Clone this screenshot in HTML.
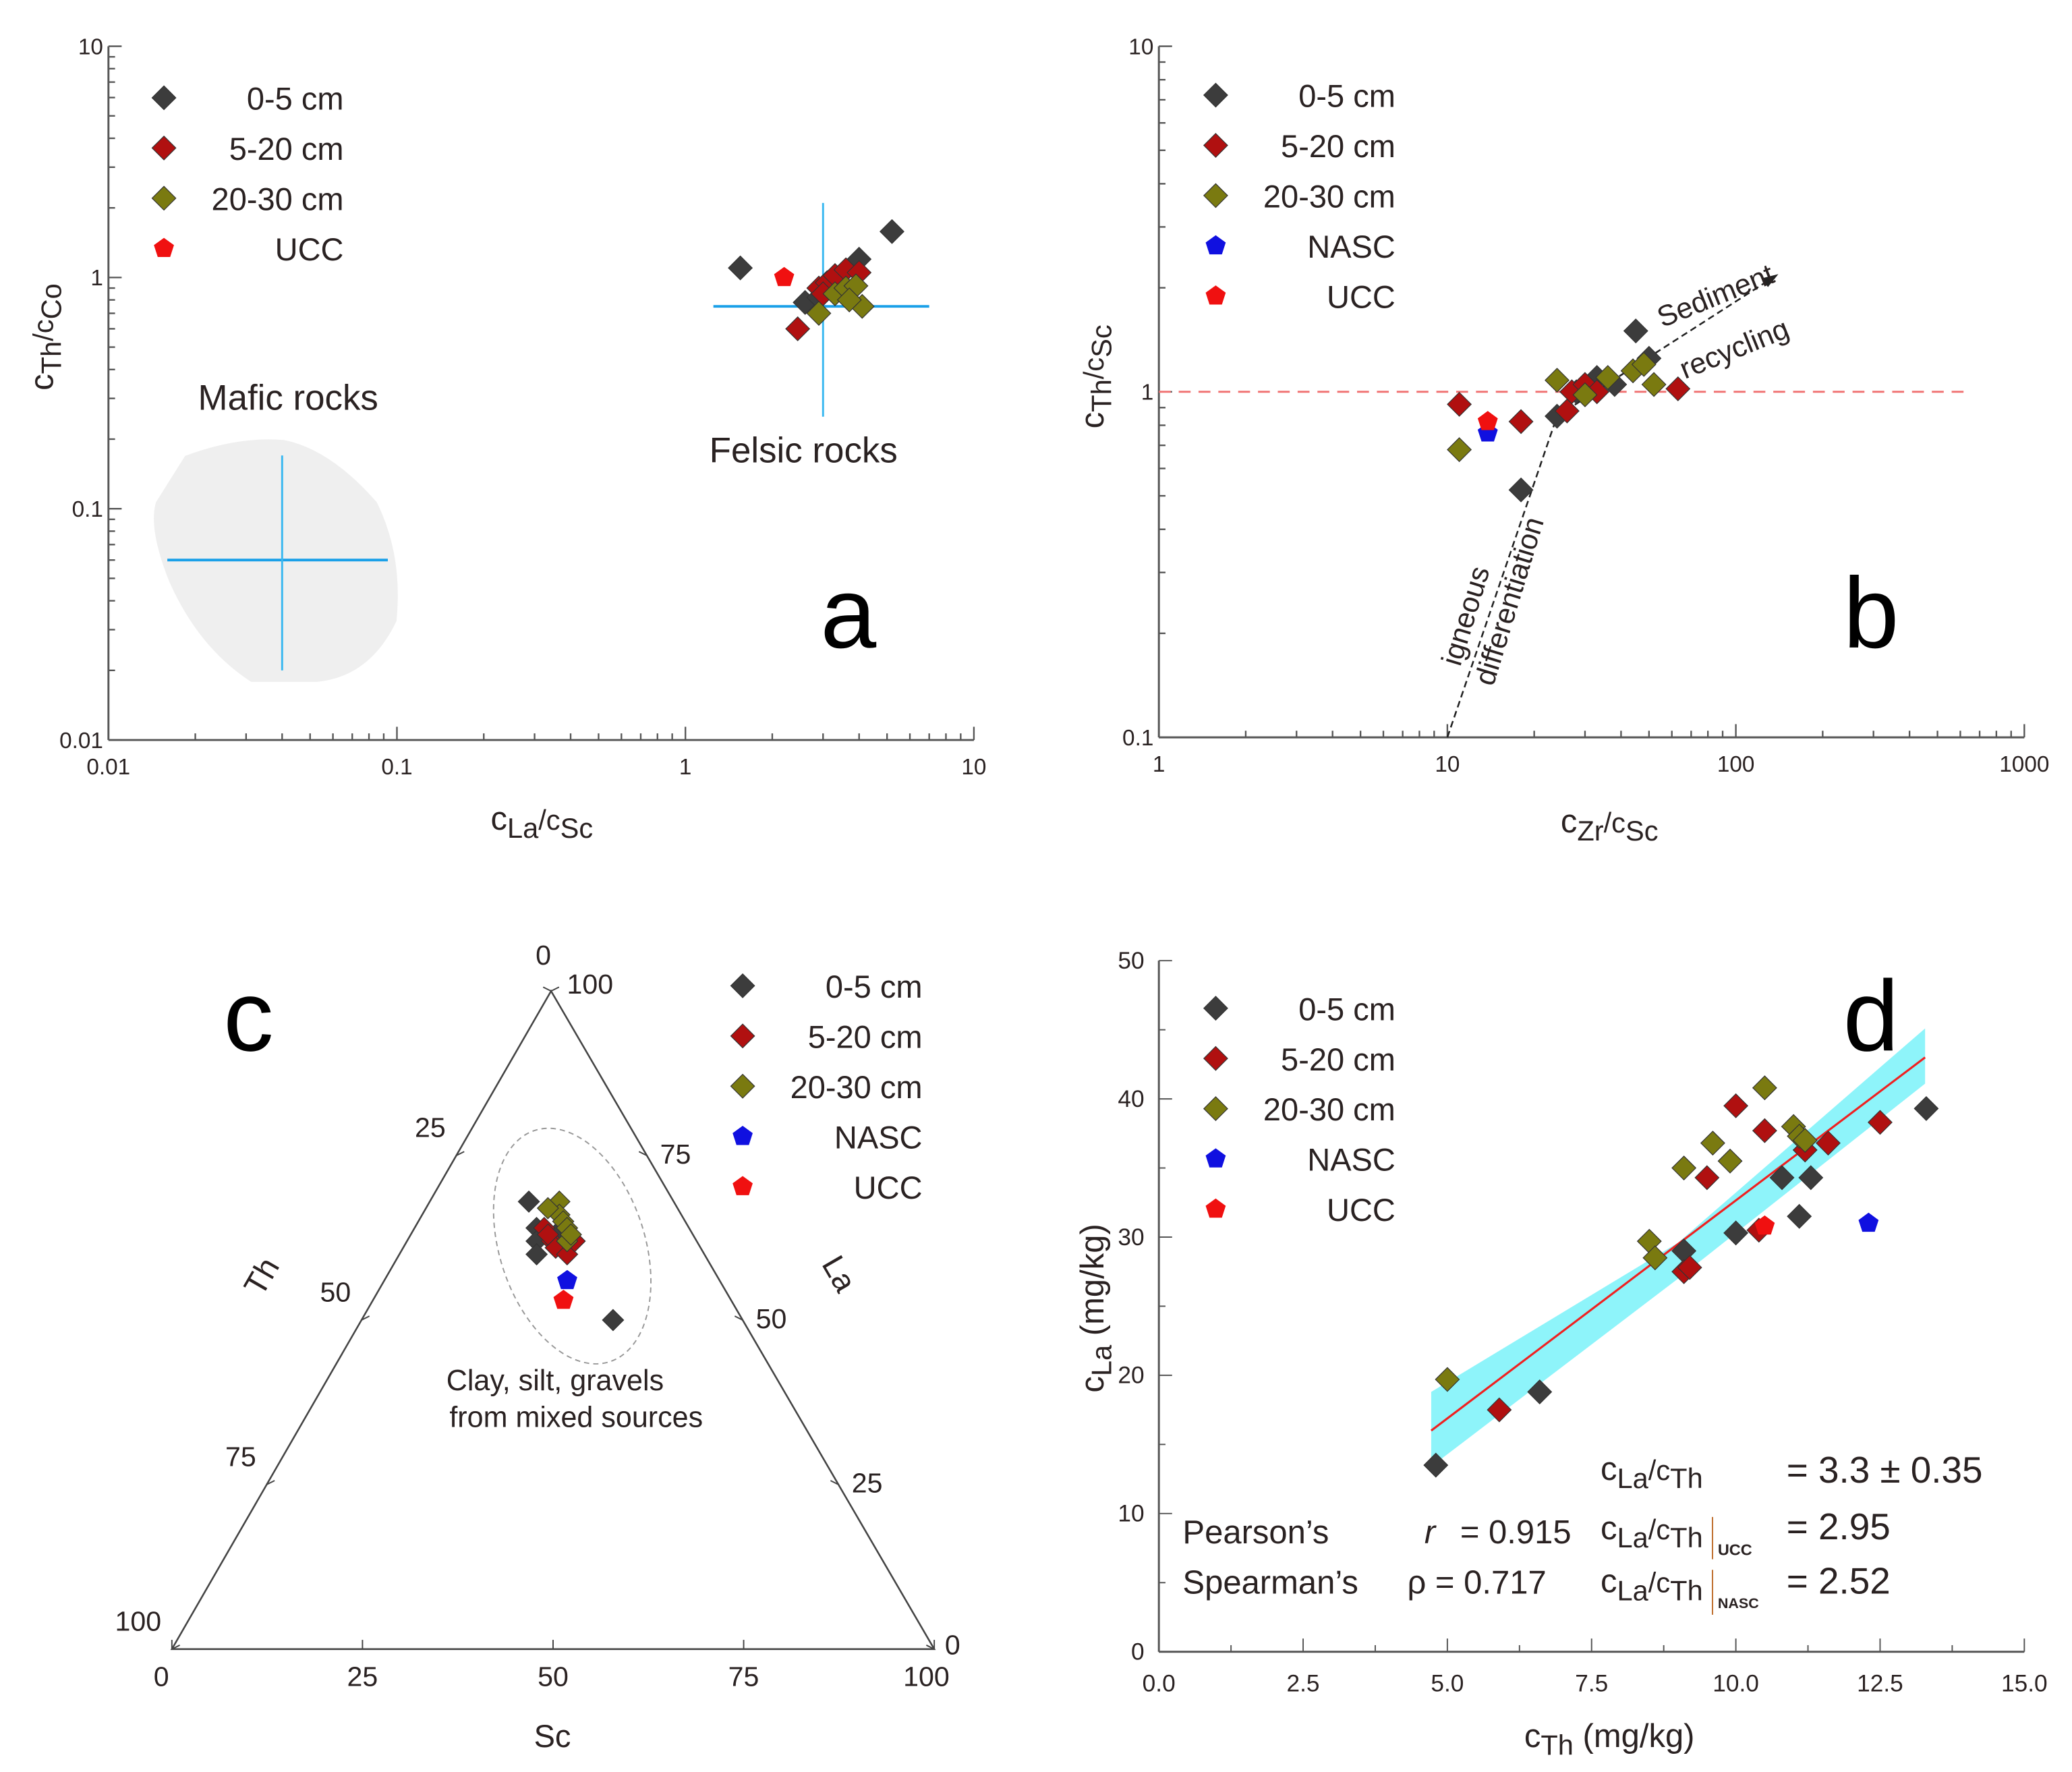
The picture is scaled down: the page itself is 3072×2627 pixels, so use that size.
<!DOCTYPE html>
<html><head><meta charset="utf-8"><style>
html,body{margin:0;padding:0;background:#fff}
svg{display:block}
text{font-family:"Liberation Sans",sans-serif;fill:#2a2222}
</style></head><body>
<svg id="fig" width="3072" height="2627" viewBox="0 0 1568 1341" xmlns="http://www.w3.org/2000/svg">
<g id="pa"></g>
<g id="pb"></g>
<g id="pc"></g>
<g id="pd"></g>
</svg>
<script>
// ---------- data ----------
// Panel a: [La/Sc, Th/Co]
const aGray=[[1.55,1.1],[2.6,0.78],[2.9,0.82],[3.3,1.0],[4.0,1.2],[5.2,1.58]];
const aRed=[[2.45,0.6],[2.9,0.9],[3.1,0.95],[3.3,1.02],[3.6,1.08],[4.0,1.05],[3.0,0.85]];
const aOlive=[[2.9,0.7],[3.3,0.85],[3.6,0.9],[3.9,0.92],[4.1,0.75],[3.7,0.8]];
const aUCC=[[2.2,1.0]];
const aTicks=[0.01,0.1,1,10];
// Panel b: [Zr/Sc, Th/Sc]
const bGray=[[18,0.52],[24,0.85],[28,1.0],[33,1.1],[38,1.05],[45,1.5],[50,1.25]];
const bRed=[[11,0.92],[18,0.82],[26,0.88],[27,1.0],[30,1.05],[33,1.0],[63,1.02]];
const bOlive=[[11,0.68],[24,1.08],[30,0.98],[36,1.1],[44,1.15],[48,1.2],[52,1.05]];
const bNASC=[[13.8,0.76]];
const bUCC=[[13.8,0.82]];
const bXTicks=[1,10,100,1000];
const bYTicks=[0.1,1,10];
// Panel c: [La, Sc] (Th = 100 - La - Sc)
const cGray=[[68,13],[64,16],[62,17],[60,18],[63,19],[50,33]];
const cRed=[[64,17],[62,19],[61,20],[60,22],[62,22],[63,18]];
const cOlive=[[68,17],[66,18],[65,19],[64,20],[62,21],[67,16],[63,21]];
const cNASC=[[56,24]];
const cUCC=[[53,25]];
const cTicks=[0,25,50,75,100];
// Panel d: [Th, La]
const dGray=[[4.8,13.5],[6.6,18.8],[9.1,29],[10,30.3],[10.8,34.3],[11.1,31.5],[11.3,34.3],[13.3,39.3]];
const dRed=[[5.9,17.5],[9.1,27.5],[9.2,27.8],[9.5,34.3],[10,39.5],[10.4,30.5],[10.5,37.7],[11.2,36.3],[11.6,36.8],[12.5,38.3]];
const dOlive=[[5,19.7],[8.5,29.7],[8.6,28.5],[9.1,35],[9.6,36.8],[9.9,35.5],[10.5,40.8],[11.0,38],[11.1,37.3],[11.2,37]];
const dNASC=[[12.3,31]];
const dUCC=[[10.5,30.8]];
const dXTicks=[0,2.5,5,7.5,10,12.5,15];
const dYTicks=[0,10,20,30,40,50];
const dFit=[[4.72,16.0],[13.28,43.0]];
const dBandUpper=[[4.72,18.8],[9,29.6],[13.28,45.1]];
const dBandLower=[[4.72,13.4],[9,27.0],[13.28,41.1]];

// ---------- helpers ----------
const NS='http://www.w3.org/2000/svg';
function mk(parent,tag,attrs,txt){const e=document.createElementNS(NS,tag);for(const k in attrs)e.setAttribute(k,attrs[k]);if(txt!==undefined)e.textContent=txt;parent.appendChild(e);return e;}
const COL={gray:'#3c3c3c',red:'#b01010',olive:'#7a7a10',blue:'#1010e0',ucc:'#f01010'};
function diamond(g,x,y,c,s){s=s||9;const e=mk(g,'path',{d:`M${x} ${y-s}L${x+s} ${y}L${x} ${y+s}L${x-s} ${y}Z`,fill:c,stroke:'#333','stroke-width':0.6});

return e;}
function penta(g,x,y,c){let p=[];for(let i=0;i<5;i++){const a=-Math.PI/2+i*2*Math.PI/5;p.push((x+8*Math.cos(a)).toFixed(1)+','+(y+8*Math.sin(a)).toFixed(1));}
const e=mk(g,'polygon',{points:p.join(' '),fill:c});

return e;}
function series(g,arr,fx,fy,c,shape){arr.forEach(d=>{const x=fx(d[0]),y=fy(d[1]);shape==='p'?penta(g,x,y,c):diamond(g,x,y,c);});}
function legend(g,x,y,items){items.forEach((it,i)=>{const yy=y+i*38;const lg=mk(g,'g',{});


it[2]==='p'?penta(lg,x,yy,it[1]):diamond(lg,x,yy,it[1]);mk(lg,'text',{x:x+136,y:yy+9,'font-size':24,'text-anchor':'end'},it[0]);});}
function logAxis(g,x0,x1,lo,hi,vertical,pos,labels){const dec=Math.log10(hi/lo);const f=v=>x0+(x1-x0)*Math.log10(v/lo)/dec;
mk(g,'line',vertical?{x1:pos,y1:x0,x2:pos,y2:x1,stroke:'#555','stroke-width':1.5}:{x1:x0,y1:pos,x2:x1,y2:pos,stroke:'#555','stroke-width':1.5});
for(let d=lo;d<hi*1.001;d*=10){for(let m=1;m<10;m++){const v=d*m;if(v>hi*1.001)break;const p=f(v);const L=m===1?10:5;
if(vertical)mk(g,'line',{x1:pos,y1:p,x2:pos+L,y2:p,stroke:'#555','stroke-width':1.2});else mk(g,'line',{x1:p,y1:pos,x2:p,y2:pos-L,stroke:'#555','stroke-width':1.2});}}
labels.forEach(v=>{const p=f(v);const t=vertical?mk(g,'text',{x:pos-4,y:p+6,'font-size':17,'text-anchor':'end'},String(v)):mk(g,'text',{x:p,y:pos+26,'font-size':17,'text-anchor':'middle'},String(v));

});return f;}
function subLabel(g,x,y,parts,rot,fs){fs=fs||25;const t=mk(g,'text',{x:x,y:y,'font-size':fs,'text-anchor':'middle',transform:rot?`rotate(-90 ${x} ${y})`:''});
parts.forEach(p=>{const s=mk(t,'tspan',{});if(p[1]===1||p[1]===-1)s.setAttribute('font-size',fs*0.85);s.setAttribute('dy',p[1]===1?6:((p[1]===-1||p[1]===2)?-6:0));s.textContent=p[0];});return t;}

// ---------- panel a ----------
(function(){const g=document.getElementById('pa');
const fx=logAxis(g,82,737,0.01,10,false,560,aTicks);
const fy=logAxis(g,560,35,0.01,10,true,82,aTicks);
mk(g,'path',{d:'M140 345 Q180 330 215 333 Q250 340 285 380 Q305 420 300 470 Q280 512 240 516 L190 516 Q150 490 128 440 Q112 400 118 380 Z',fill:'#efefef'});
mk(g,'line',{x1:fx(0.016),y1:fy(0.06),x2:fx(0.093),y2:fy(0.06),stroke:'#1aa0e8','stroke-width':2});
mk(g,'line',{x1:fx(0.04),y1:fy(0.17),x2:fx(0.04),y2:fy(0.02),stroke:'#3ab8f0','stroke-width':1.5});
mk(g,'line',{x1:fx(1.25),y1:fy(0.75),x2:fx(7),y2:fy(0.75),stroke:'#1aa0e8','stroke-width':2});
mk(g,'line',{x1:fx(3.0),y1:fy(2.1),x2:fx(3.0),y2:fy(0.25),stroke:'#3ab8f0','stroke-width':1.5});
series(g,aGray,fx,fy,COL.gray);series(g,aRed,fx,fy,COL.red);series(g,aOlive,fx,fy,COL.olive);series(g,aUCC,fx,fy,COL.ucc,'p');
mk(g,'text',{x:218,y:310,'font-size':27,'text-anchor':'middle'},'Mafic rocks');
mk(g,'text',{x:608,y:350,'font-size':27,'text-anchor':'middle'},'Felsic rocks');
mk(g,'text',{x:642,y:490,'font-size':76,'text-anchor':'middle',style:'fill:#000'},'a');
legend(g,124,74,[['0-5 cm',COL.gray],['5-20 cm',COL.red],['20-30 cm',COL.olive],['UCC',COL.ucc,'p']]);
subLabel(g,410,628,[['c'],['La',1],['/c',-1],['Sc',1]]);
subLabel(g,40,255,[['c'],['Th',1],['/c',-1],['Co',1]],true);
})();

// ---------- panel b ----------
(function(){const g=document.getElementById('pb');
const fx=logAxis(g,877,1532,1,1000,false,558,bXTicks);
const fy=logAxis(g,558,35,0.1,10,true,877,bYTicks);
mk(g,'line',{x1:877,y1:fy(1),x2:1490,y2:fy(1),stroke:'#f07070','stroke-width':1.5,'stroke-dasharray':'9 6'});
mk(g,'defs',{}).innerHTML='<marker id="ah" markerUnits="userSpaceOnUse" markerWidth="12" markerHeight="8" refX="11" refY="4" orient="auto"><path d="M0 0L12 4L0 8Z" fill="#222"/></marker>';
mk(g,'line',{x1:fx(10),y1:fy(0.1),x2:fx(24),y2:fy(0.85),stroke:'#222','stroke-width':1.3,'stroke-dasharray':'5 3'});
mk(g,'line',{x1:fx(24),y1:fy(0.85),x2:1345,y2:208,stroke:'#222','stroke-width':1.3,'stroke-dasharray':'5 3','marker-end':'url(#ah)'});
series(g,bGray,fx,fy,COL.gray);series(g,bRed,fx,fy,COL.red);series(g,bOlive,fx,fy,COL.olive);
series(g,bNASC,fx,fy,COL.blue,'p');series(g,bUCC,fx,fy,COL.ucc,'p');
mk(g,'text',{x:1258,y:248,'font-size':22,transform:'rotate(-22 1258 248)'},'Sediment');
mk(g,'text',{x:1275,y:287,'font-size':22,transform:'rotate(-22 1275 287)'},'recycling');
mk(g,'text',{x:1105,y:505,'font-size':22,transform:'rotate(-73 1105 505)'},'igneous');
mk(g,'text',{x:1130,y:520,'font-size':22,transform:'rotate(-73 1130 520)'},'differentiation');
mk(g,'text',{x:1416,y:490,'font-size':76,'text-anchor':'middle',style:'fill:#000'},'b');
legend(g,920,72,[['0-5 cm',COL.gray],['5-20 cm',COL.red],['20-30 cm',COL.olive],['NASC',COL.blue,'p'],['UCC',COL.ucc,'p']]);
subLabel(g,1218,630,[['c'],['Zr',1],['/c',-1],['Sc',1]]);
subLabel(g,835,285,[['c'],['Th',1],['/c',-1],['Sc',1]],true);
})();

// ---------- panel c ----------
(function(){const g=document.getElementById('pc');
const T=[417,750],L=[130,1248],R=[707,1248];
const P=(la,sc)=>{const th=(100-la-sc)/100;la/=100;sc/=100;return[la*T[0]+sc*R[0]+th*L[0],la*T[1]+sc*R[1]+th*L[1]];};
mk(g,'polygon',{points:`${T} ${L} ${R}`,fill:'none',stroke:'#444','stroke-width':1.3});
cTicks.forEach(v=>{const b=P(0,v);mk(g,'line',{x1:b[0],y1:b[1],x2:b[0],y2:b[1]-7,stroke:'#444'});
mk(g,'text',{x:b[0]+(v===0?-8:v===100?-6:0),y:b[1]+28,'font-size':21,'text-anchor':'middle'},String(v));
const r=P(v,100-v);mk(g,'line',{x1:r[0],y1:r[1],x2:r[0]-6,y2:r[1]-3,stroke:'#444'});
mk(g,'text',{x:r[0]+(v===100?12:v===0?8:10),y:r[1]+(v===100?2:v===0?4:6),'font-size':21},String(v));
const l=P(100-v,0);mk(g,'line',{x1:l[0],y1:l[1],x2:l[0]+6,y2:l[1]-3,stroke:'#444'});
mk(g,'text',{x:l[0]-(v===0?0:8),y:l[1]+(v===0?-20:-14),'font-size':21,'text-anchor':'end'},String(v));});
mk(g,'ellipse',{cx:433,cy:943,rx:55,ry:92,transform:'rotate(-18 433 943)',fill:'none',stroke:'#999','stroke-width':1,'stroke-dasharray':'4 3'});
const pc=(arr,c,s)=>arr.forEach(d=>{const p=P(d[0],d[1]);s==='p'?penta(g,p[0],p[1],c):diamond(g,p[0],p[1],c,8);});
pc(cGray,COL.gray);pc(cRed,COL.red);pc(cOlive,COL.olive);pc(cNASC,COL.blue,'p');pc(cUCC,COL.ucc,'p');
mk(g,'text',{x:420,y:1052,'font-size':22,'text-anchor':'middle'},'Clay, silt, gravels');
mk(g,'text',{x:436,y:1080,'font-size':22,'text-anchor':'middle'},'from mixed sources');
mk(g,'text',{x:418,y:1322,'font-size':24,'text-anchor':'middle'},'Sc');
mk(g,'text',{x:205,y:970,'font-size':24,transform:'rotate(-60 205 970)','text-anchor':'middle'},'Th');
mk(g,'text',{x:628,y:968,'font-size':24,transform:'rotate(60 628 968)','text-anchor':'middle'},'La');
mk(g,'text',{x:188,y:795,'font-size':76,'text-anchor':'middle',style:'fill:#000'},'c');
legend(g,562,746,[['0-5 cm',COL.gray],['5-20 cm',COL.red],['20-30 cm',COL.olive],['NASC',COL.blue,'p'],['UCC',COL.ucc,'p']]);
})();

// ---------- panel d ----------
(function(){const g=document.getElementById('pd');
const fx=v=>877+v*655/15, fy=v=>1250-v*523/50;
mk(g,'line',{x1:877,y1:1250,x2:1532,y2:1250,stroke:'#555','stroke-width':1.5});
mk(g,'line',{x1:877,y1:1250,x2:877,y2:727,stroke:'#555','stroke-width':1.5});
dXTicks.forEach((v,i)=>{mk(g,'line',{x1:fx(v),y1:1250,x2:fx(v),y2:1240,stroke:'#555'});
if(i<dXTicks.length-1)mk(g,'line',{x1:fx(v+1.25),y1:1250,x2:fx(v+1.25),y2:1245,stroke:'#555'});
mk(g,'text',{x:fx(v),y:1280,'font-size':18,'text-anchor':'middle'},v.toFixed(1));});
dYTicks.forEach((v,i)=>{mk(g,'line',{x1:877,y1:fy(v),x2:887,y2:fy(v),stroke:'#555'});
if(i<dYTicks.length-1)mk(g,'line',{x1:877,y1:fy(v+5),x2:882,y2:fy(v+5),stroke:'#555'});
mk(g,'text',{x:866,y:fy(v)+6,'font-size':18,'text-anchor':'end'},String(v));});
const band=dBandUpper.map(d=>fx(d[0])+','+fy(d[1])).concat(dBandLower.slice().reverse().map(d=>fx(d[0])+','+fy(d[1])));
mk(g,'polygon',{points:band.join(' '),fill:'#8ef4fa'});
mk(g,'line',{x1:fx(dFit[0][0]),y1:fy(dFit[0][1]),x2:fx(dFit[1][0]),y2:fy(dFit[1][1]),stroke:'#f02020','stroke-width':1.6});
series(g,dGray,fx,fy,COL.gray);series(g,dRed,fx,fy,COL.red);series(g,dOlive,fx,fy,COL.olive);
series(g,dNASC,fx,fy,COL.blue,'p');series(g,dUCC,fx,fy,COL.ucc,'p');
mk(g,'text',{x:1416,y:795,'font-size':76,'text-anchor':'middle',style:'fill:#000'},'d');
legend(g,920,763,[['0-5 cm',COL.gray],['5-20 cm',COL.red],['20-30 cm',COL.olive],['NASC',COL.blue,'p'],['UCC',COL.ucc,'p']]);
subLabel(g,1218,1322,[['c'],['Th',1],[' (mg/kg)',2]]);
subLabel(g,835,990,[['c'],['La',1],[' (mg/kg)',2]],true);
mk(g,'text',{x:895,y:1168,'font-size':25},'Pearson\u2019s');
mk(g,'text',{x:895,y:1206,'font-size':25},'Spearman\u2019s');
mk(g,'text',{x:1078,y:1168,'font-size':25,'font-style':'italic'},'r');
mk(g,'text',{x:1105,y:1168,'font-size':25},'= 0.915');
mk(g,'text',{x:1065,y:1206,'font-size':25},'\u03c1  = 0.717');
subLabel(g,1250,1120,[['c'],['La',1],['/c',-1],['Th',1]]);
subLabel(g,1250,1165,[['c'],['La',1],['/c',-1],['Th',1]]);
subLabel(g,1250,1205,[['c'],['La',1],['/c',-1],['Th',1]]);
mk(g,'line',{x1:1296,y1:1148,x2:1296,y2:1180,stroke:'#c07030'});
mk(g,'line',{x1:1296,y1:1188,x2:1296,y2:1222,stroke:'#c07030'});
mk(g,'text',{x:1300,y:1177,'font-size':12,'font-weight':'bold'},'UCC');
mk(g,'text',{x:1300,y:1217,'font-size':11,'font-weight':'bold'},'NASC');
mk(g,'text',{x:1352,y:1122,'font-size':28},'= 3.3 \u00b1 0.35');
mk(g,'text',{x:1352,y:1165,'font-size':28},'= 2.95');
mk(g,'text',{x:1352,y:1206,'font-size':28},'= 2.52');
})();
</script>
</body></html>
